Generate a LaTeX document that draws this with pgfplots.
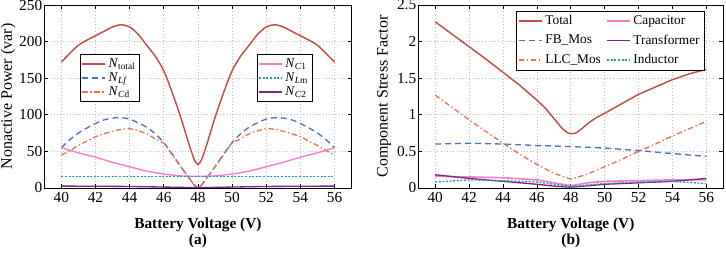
\documentclass[border=0pt]{standalone}
\usepackage{fontspec}
\setmainfont{Liberation Serif}
\usepackage{pgfplots}
\pgfplotsset{compat=1.18}

\definecolor{totalred}{RGB}{196,78,70}
\definecolor{lfblue}{RGB}{72,114,196}
\definecolor{cdorange}{RGB}{237,110,80}
\definecolor{cpink}{RGB}{255,120,200}
\definecolor{lmteal}{RGB}{30,165,140}
\definecolor{cpurple}{RGB}{120,40,140}

\pgfplotsset{
  panel/.style={
    scale only axis, height=137.2pt,
    xmin=39, xmax=57, xtick={40,42,...,56}, ymin=0,
    clip mode=individual,
    grid=major, major grid style={gray!55, dotted, line width=0.5pt},
    tick align=inside, major tick length=3pt,
    tick style={black, line width=0.5pt},
    axis line style={line width=0.6pt},
    /pgf/number format/assume math mode=true,
    tick label style={font=\fontsize{11.5}{12}\selectfont},
    yticklabel style={xshift=2pt},
    xlabel style={font=\fontsize{11.5}{13}\selectfont\bfseries,
      at={(axis description cs:0.5,-0.2)}, anchor=center},
    ylabel style={font=\fontsize{12}{14}\selectfont, anchor=center},
    legend image code/.code={%
      \draw[#1, line width=1.4pt] (0pt,0pt) -- (17pt,0pt);},
  },
  fullline/.style={line width=1pt},
}

\begin{document}
\begin{tikzpicture}
\path[use as bounding box] (0,0) rectangle (544.5pt,-190.5pt);

% ---------------- (a) nonactive power ----------------
\begin{axis}[panel, width=230.5pt,
  at={(33.2pt,-3.75pt)}, anchor=north west,
  ymax=250, ytick={0,50,...,250},
  xlabel={Battery Voltage (V)},
  ylabel={Nonactive Power (var)},
  ylabel style={at={(axis description cs:-0.118,0.5)}},
  legend style={at={(axis description cs:0.116,0.731)}, anchor=north west,
    draw=black, fill=white, inner sep=1pt,
    font=\fontsize{10}{9}\selectfont, row sep=-1.5pt,
    /tikz/every even column/.append style={column sep=1pt}},
  legend cell align=left,
]
\addplot[totalred, line width=1.1pt, smooth] coordinates {
 (40,172) (40.5,184) (41,195) (41.5,202) (42,208) (42.5,214) (43,220)
 (43.5,223) (44,220) (44.5,210) (45,195) (45.5,180) (46,160) (46.5,130)
 (47,96) (47.5,58) (47.8,38) (48,32) (48.2,38) (48.5,58) (49,96)
 (49.5,130) (50,160) (50.5,180) (51,195) (51.5,210) (52,220) (52.5,223)
 (53,220) (53.5,214) (54,208) (54.5,202) (55,195) (55.5,184) (56,172)};
\addlegendentry{\textit{N}\textsubscript{total}}
\addplot[lfblue, fullline, dash pattern=on 4.5pt off 3pt, smooth] coordinates {
 (40,55) (40.5,66) (41,75) (41.5,82) (42,88) (42.5,93) (43,95.5) (43.5,96)
 (44,94) (44.5,89) (45,83) (45.5,74) (46,62) (46.5,46) (47,29) (47.5,13)
 (48,0) (48.5,13) (49,29) (49.5,46) (50,62) (50.5,74) (51,83) (51.5,89)
 (52,94) (52.5,96) (53,95.5) (53.5,93) (54,88) (54.5,82) (55,75) (55.5,66)
 (56,55)};
\addlegendentry{\textit{N}\textsubscript{\textit{Lf}}}
\addplot[cdorange, fullline, dash pattern=on 4pt off 2pt on 1pt off 2pt, smooth] coordinates {
 (40,45) (40.5,51) (41,58) (41.5,64) (42,70) (42.5,74) (43,77.5) (43.5,80)
 (44,81) (44.5,78) (45,74) (45.5,67) (46,61) (46.5,45) (47,29) (47.5,13)
 (48,0) (48.5,13) (49,29) (49.5,45) (50,61) (50.5,67) (51,74) (51.5,78)
 (52,81) (52.5,80) (53,77.5) (53.5,74) (54,70) (54.5,64) (55,58) (55.5,51)
 (56,45)};
\addlegendentry{\textit{N}\textsubscript{\textit{C}d}}
\end{axis}

\begin{axis}[panel, width=230.5pt, hide axis,
  at={(33.2pt,-3.75pt)}, anchor=north west,
  ymax=250,
  legend style={at={(axis description cs:0.691,0.731)}, anchor=north west,
    draw=black, fill=white, inner sep=1pt,
    font=\fontsize{10}{9}\selectfont, row sep=-1.5pt,
    /tikz/every even column/.append style={column sep=1pt}},
  legend cell align=left,
]
\addplot[cpink, fullline, smooth] coordinates {
 (40,55) (41,48) (42,42) (43,35) (44,29) (45,23) (46,19) (47,16.5) (48,16)
 (49,16.5) (50,19) (51,23) (52,29) (53,35) (54,42) (55,48) (56,55)};
\addlegendentry{\textit{N}\textsubscript{\textit{C}1}}
\addplot[lmteal, fullline, dash pattern=on 1.5pt off 1.2pt] coordinates {
 (40,16) (44,16) (48,16) (52,16) (56,16)};
\addlegendentry{\textit{N}\textsubscript{\textit{L}m}}
\addplot[cpurple, fullline, smooth] coordinates {
 (40,2.5) (42,2.3) (44,2) (46,1.2) (48,0.5) (50,1.2) (52,2) (54,2.3) (56,2.5)};
\addlegendentry{\textit{N}\textsubscript{\textit{C}2}}
\node[font=\fontsize{11.5}{13}\selectfont\bfseries] at (axis description cs:0.5,-0.29) {(a)};
\end{axis}

% ---------------- (b) component stress factor ----------------
\begin{axis}[panel, width=228.8pt,
  at={(313.7pt,-3.75pt)}, anchor=north west,
  ymax=2.5, ytick={0,0.5,...,2.5},
  xlabel={Battery Voltage (V)},
  ylabel={Component Stress Factor},
  ylabel style={at={(axis description cs:-0.112,0.5)}},
  legend columns=2,
  legend style={at={(axis description cs:0.32,0.969)}, anchor=north west,
    draw=black, fill=white, inner sep=1.5pt,
    font=\fontsize{10}{11}\selectfont, row sep=2pt,
    /tikz/every even column/.append style={column sep=2pt}},
  legend cell align=left,
]
\addplot[totalred, line width=1.1pt] coordinates {
 (40,2.27) (41,2.10) (42,1.93) (43,1.76) (44,1.58) (45,1.40) (46,1.20)
 (46.5,1.09) (47,0.95) (47.5,0.81) (47.8,0.755) (48,0.74) (48.3,0.75)
 (48.6,0.80) (49,0.88) (49.5,0.96) (50,1.02) (51,1.15) (52,1.28) (53,1.38)
 (54,1.48) (55,1.56) (56,1.62)};
\addlegendentry{Total}
\addplot[cpink, line width=1.2pt] coordinates {
 (40,0.16) (42,0.15) (44,0.14) (46,0.11) (47,0.07) (48,0.03) (49,0.07)
 (50,0.09) (52,0.10) (54,0.11) (56,0.11)};
\addlegendentry{Capacitor}
\addplot[lfblue, fullline, dash pattern=on 4.5pt off 3pt] coordinates {
 (40,0.60) (42,0.61) (44,0.60) (46,0.58) (48,0.565) (50,0.545) (52,0.51)
 (54,0.47) (56,0.43)};
\addlegendentry{FB\_Mos}
\addplot[cpurple, fullline] coordinates {
 (40,0.18) (42,0.13) (44,0.09) (46,0.05) (47,0.025) (48,0.01) (49,0.03)
 (50,0.05) (52,0.07) (54,0.09) (56,0.13)};
\addlegendentry{Transformer}
\addplot[cdorange, fullline, dash pattern=on 4pt off 2pt on 1pt off 2pt] coordinates {
 (40,1.27) (41,1.10) (42,0.93) (43,0.77) (44,0.61) (45,0.46) (46,0.32)
 (47,0.20) (48,0.12) (49,0.19) (50,0.29) (51,0.39) (52,0.50) (53,0.60)
 (54,0.71) (55,0.81) (56,0.91)};
\addlegendentry{LLC\_Mos}
\addplot[lmteal, fullline, dash pattern=on 1.5pt off 1.2pt] coordinates {
 (40,0.08) (42,0.11) (44,0.10) (46,0.08) (47,0.05) (48,0.02) (49,0.04)
 (50,0.06) (52,0.08) (54,0.09) (56,0.06)};
\addlegendentry{Inductor}
\node[font=\fontsize{11.5}{13}\selectfont\bfseries] at (axis description cs:0.5,-0.29) {(b)};
\end{axis}
\end{tikzpicture}
\end{document}
